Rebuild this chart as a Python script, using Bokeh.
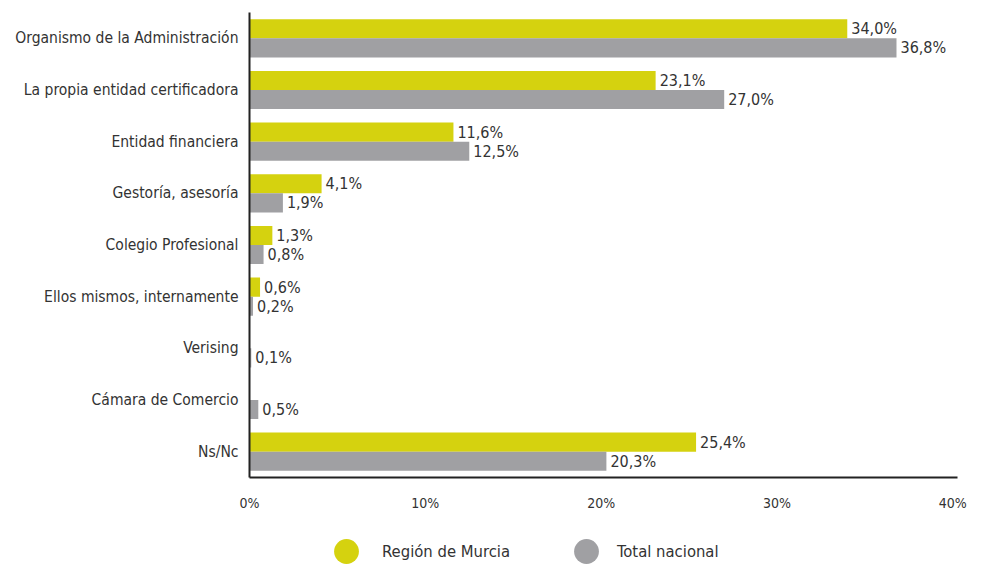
from bokeh.plotting import figure
from bokeh.models import (ColumnDataSource, FactorRange, LabelSet, Legend, LegendItem,
                          FixedTicker, PrintfTickFormatter)
from bokeh.layouts import column
from bokeh.transform import dodge
from bokeh.core.properties import value
from bokeh.embed import file_html
from bokeh.resources import INLINE

categories = ["Organismo de la Administración", "La propia entidad certificadora",
              "Entidad financiera", "Gestoría, asesoría", "Colegio Profesional",
              "Ellos mismos, internamente", "Verising", "Cámara de Comercio", "Ns/Nc"]
murcia = [34.0, 23.1, 11.6, 4.1, 1.3, 0.6, None, None, 25.4]
nacional = [36.8, 27.0, 12.5, 1.9, 0.8, 0.2, 0.1, 0.5, 20.3]
series_names = ["Región de Murcia", "Total nacional"]
x_ticks = [0, 10, 20, 30, 40]

YELLOW = "#d5d20f"
GREY = "#a0a0a3"
TXT = "#333333"
FONT = "'DejaVu Sans Condensed', Roboto"
NAN = float("nan")

def fmt(v):
    return f"{v:.1f}".replace(".", ",") + "%"

m_cats = [c for c, v in zip(categories, murcia) if v is not None]
m_vals = [v for v in murcia if v is not None]
src_m = ColumnDataSource(dict(cat=m_cats, val=m_vals, lab=[fmt(v) for v in m_vals]))
src_n = ColumnDataSource(dict(cat=categories, val=nacional, lab=[fmt(v) for v in nacional]))

p = figure(width=981, height=520, output_backend="svg", toolbar_location=None,
           y_range=FactorRange(factors=list(reversed(categories)), range_padding=0),
           x_range=(0, 40.27),
           min_border_left=249, min_border_right=24, min_border_top=12, min_border_bottom=43)
p.outline_line_color = None
p.grid.visible = False

ym = dodge("cat", 0.185, range=p.y_range)
yn = dodge("cat", -0.185, range=p.y_range)
p.hbar(y=ym, right="val", left=0, height=0.37, source=src_m, color=YELLOW, line_color=None)
p.hbar(y=yn, right="val", left=0, height=0.37, source=src_n, color=GREY, line_color=None)

for src, y in ((src_m, ym), (src_n, yn)):
    p.add_layout(LabelSet(x="val", y=y, text="lab", source=src, x_offset=4,
                          text_baseline="middle", text_font=value(FONT),
                          text_font_size="16px", text_color=TXT))

# axes
p.xaxis.ticker = FixedTicker(ticks=x_ticks)
p.xaxis.formatter = PrintfTickFormatter(format="%d%%")
p.xaxis.major_tick_line_color = None
p.xaxis.minor_tick_line_color = None
p.xaxis.axis_line_color = "#222222"
p.xaxis.axis_line_width = 2
p.xaxis.major_label_text_font = FONT
p.xaxis.major_label_text_font_size = "14px"
p.xaxis.major_label_text_color = TXT
p.xaxis.major_label_standoff = 11

p.yaxis.major_tick_line_color = None
p.yaxis.minor_tick_line_color = None
p.yaxis.axis_line_color = "#222222"
p.yaxis.axis_line_width = 2
p.yaxis.major_label_text_font = FONT
p.yaxis.major_label_text_font_size = "15.5px"
p.yaxis.major_label_text_color = TXT
p.yaxis.major_label_standoff = 5

# legend strip (its frame is aligned with the main frame, left edge at x=249)
q = figure(width=981, height=44, output_backend="svg", toolbar_location=None,
           x_range=(0, 1), y_range=(0, 1), x_axis_location=None, y_axis_location=None,
           min_border=0)
q.outline_line_color = None
q.grid.visible = False
r1 = q.scatter(x=[NAN], y=[NAN], marker="circle", size=25, color=YELLOW, line_color=None)
r2 = q.scatter(x=[NAN], y=[NAN], marker="circle", size=25, color=GREY, line_color=None)
for r, name, left, stand in ((r1, series_names[0], 66, 5), (r2, series_names[1], 306, -4)):
    lg = Legend(items=[LegendItem(label=name, renderers=[r])],
                location=(left, -18), glyph_width=62, glyph_height=62,
                padding=0, margin=0, spacing=0, label_standoff=stand,
                border_line_color=None, background_fill_alpha=0,
                label_text_font=FONT, label_text_font_size="16.5px", label_text_color=TXT)
    q.add_layout(lg)

layout = column(p, q, spacing=0)
open("out.html", "w").write(file_html(layout, INLINE))
